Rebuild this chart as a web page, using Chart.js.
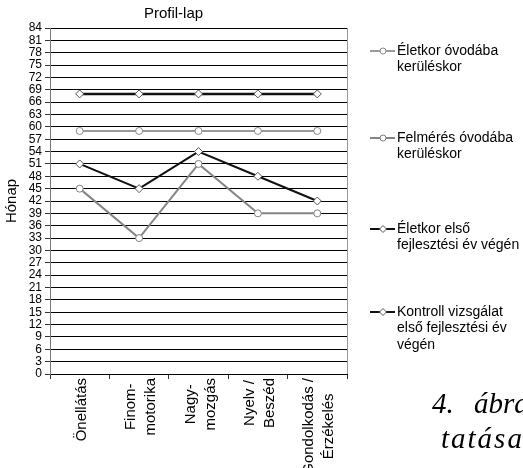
<!DOCTYPE html>
<html lang="hu">
<head>
<meta charset="utf-8">
<title>Profil-lap</title>
<script src="https://cdn.jsdelivr.net/npm/chart.js@4/dist/chart.umd.min.js"></script>
<style>
  html, body { margin: 0; padding: 0; background: #fff; overflow: hidden; }
  #wrap { position: relative; width: 523px; height: 468px; overflow: hidden; }
  #profil { position: absolute; left: 0; top: 0; }
  .caption {
    position: absolute;
    font-family: "Liberation Serif", "Times New Roman", serif;
    font-style: italic;
    font-size: 29px;
    line-height: 1;
    white-space: nowrap;
    color: #000;
  }
</style>
</head>
<body>
<div id="wrap">
  <canvas id="profil" width="523" height="468"></canvas>
  <div class="caption" style="left:432px; top:389px; word-spacing:13px;">4. ábra</div>
  <div class="caption" style="left:441px; top:424px; letter-spacing:2px;">tatása</div>
</div>
<script>
// Területek (x tengely), soronként tördelve
const categories = [
  ['Önellátás'],
  ['Finom-', 'motorika'],
  ['Nagy-', 'mozgás'],
  ['Nyelv /', 'Beszéd'],
  ['Gondolkodás /', 'Érzékelés'],
];

// Sorozatok neve (jelmagyarázat sorai)
const seriesNames = [
  ['Életkor óvodába', 'kerüléskor'],
  ['Felmérés óvodába', 'kerüléskor'],
  ['Életkor első', 'fejlesztési év végén'],
  ['Kontroll vizsgálat', 'első fejlesztési év', 'végén'],
];

// Értékek hónapban
const eletkorBelepes = [59, 59, 59, 59, 59];
const felmeresBelepes = [45, 33, 51, 39, 39];
const eletkorElsoEv = [68, 68, 68, 68, 68];
const kontrollElsoEv = [51, 45, 54, 48, 42];

// y tengely
const yMin = 0;
const yMax = 84;
const yStep = 3;

const FONT = '"Liberation Sans", Arial, sans-serif';

function makeDataset(i, values, color, lineWidth, pointStyle, pointColor, radius) {
  return {
    label: seriesNames[i].join(' '),
    data: values,
    borderColor: color,
    borderWidth: lineWidth,
    pointStyle: pointStyle,
    pointRadius: radius,
    pointHoverRadius: radius,
    pointBorderColor: pointColor,
    pointBorderWidth: 1,
    pointBackgroundColor: '#fff',
    tension: 0,
    fill: false,
  };
}

const datasets = [
  makeDataset(0, eletkorBelepes, '#9a9a9a', 2, 'circle', '#8a8a8a', 3.5),
  makeDataset(1, felmeresBelepes, '#858585', 2, 'circle', '#808080', 3.5),
  makeDataset(2, eletkorElsoEv, '#111', 2.5, 'rectRot', '#555', 4),
  makeDataset(3, kontrollElsoEv, '#111', 2, 'rectRot', '#555', 4),
];

// Kézzel rajzolt x feliratok: függőlegesen, soronként középre igazítva
const xLabelPlugin = {
  id: 'xLabels',
  afterDraw(chart) {
    const ctx = chart.ctx;
    const xScale = chart.scales.x;
    const top = chart.chartArea.bottom + 4;
    const lineGap = 20;
    ctx.save();
    ctx.font = '15px ' + FONT;
    ctx.fillStyle = '#000';
    ctx.textAlign = 'center';
    ctx.textBaseline = 'middle';
    categories.forEach((lines, i) => {
      const cx = xScale.getPixelForValue(i);
      const w = Math.max(...lines.map(l => ctx.measureText(l).width));
      ctx.save();
      ctx.translate(cx, top);
      ctx.rotate(-Math.PI / 2);
      lines.forEach((l, j) => {
        const off = (j - (lines.length - 1) / 2) * lineGap;
        ctx.fillText(l, -w / 2, off + 2);
      });
      ctx.restore();
    });
    ctx.restore();
  },
};

// Jobb oldali keret és jelmagyarázat
const legendPlugin = {
  id: 'sideLegend',
  afterDraw(chart) {
    const ctx = chart.ctx;
    const area = chart.chartArea;
    ctx.save();
    ctx.strokeStyle = '#999';
    ctx.lineWidth = 1;
    ctx.beginPath();
    ctx.moveTo(Math.round(area.right) + 0.5, area.top);
    ctx.lineTo(Math.round(area.right) + 0.5, area.bottom);
    ctx.stroke();

    const itemY = [51, 138, 229, 312];
    const x0 = 370, x1 = 395, mx = 383, tx = 397;
    ctx.font = '14px ' + FONT;
    ctx.textBaseline = 'middle';
    ctx.textAlign = 'left';
    chart.data.datasets.forEach((ds, i) => {
      const y = itemY[i];
      ctx.strokeStyle = ds.borderColor;
      ctx.lineWidth = Math.min(ds.borderWidth, 2);
      ctx.beginPath();
      ctx.moveTo(x0, y);
      ctx.lineTo(x1, y);
      ctx.stroke();

      ctx.fillStyle = '#fff';
      ctx.strokeStyle = ds.pointBorderColor;
      ctx.lineWidth = 1;
      ctx.beginPath();
      if (ds.pointStyle === 'circle') {
        ctx.arc(mx, y, 3, 0, Math.PI * 2);
      } else {
        ctx.moveTo(mx, y - 3.5);
        ctx.lineTo(mx + 3.5, y);
        ctx.lineTo(mx, y + 3.5);
        ctx.lineTo(mx - 3.5, y);
        ctx.closePath();
      }
      ctx.fill();
      ctx.stroke();

      ctx.fillStyle = '#000';
      seriesNames[i].forEach((line, j) => {
        ctx.fillText(line, tx, y + j * 16.5);
      });
    });
    ctx.restore();
  },
};

new Chart(document.getElementById('profil'), {
  type: 'line',
  data: {
    labels: categories.map(c => c.join(' ')),
    datasets: datasets,
  },
  options: {
    responsive: false,
    animation: false,
    layout: {
      padding: { left: 0, right: 176, top: 0, bottom: 0 },
    },
    plugins: {
      legend: { display: false },
      tooltip: { enabled: false },
      title: {
        display: true,
        text: 'Profil-lap',
        color: '#000',
        font: { family: FONT, size: 15, weight: 'normal', lineHeight: 1.2 },
        padding: { top: 5, bottom: 5 },
      },
    },
    scales: {
      x: {
        offset: true,
        afterFit(scale) { scale.height = 94; },
        grid: {
          display: true,
          offset: true,
          drawOnChartArea: false,
          drawTicks: true,
          tickLength: 5,
          color: '#333',
        },
        border: { display: true, color: '#000', width: 1 },
        ticks: { display: false },
      },
      y: {
        min: yMin,
        max: yMax,
        afterFit(scale) { scale.width = 50; },
        grid: {
          color: '#000',
          lineWidth: 1,
          tickLength: 5,
          tickColor: '#333',
        },
        border: { display: true, color: '#777', width: 1 },
        ticks: {
          stepSize: yStep,
          autoSkip: false,
          padding: 3,
          color: '#000',
          font: { family: FONT, size: 12 },
        },
        title: {
          display: true,
          text: 'Hónap',
          color: '#000',
          font: { family: FONT, size: 15 },
          padding: { top: 3, bottom: 0 },
        },
      },
    },
  },
  plugins: [xLabelPlugin, legendPlugin],
});
</script>
</body>
</html>
